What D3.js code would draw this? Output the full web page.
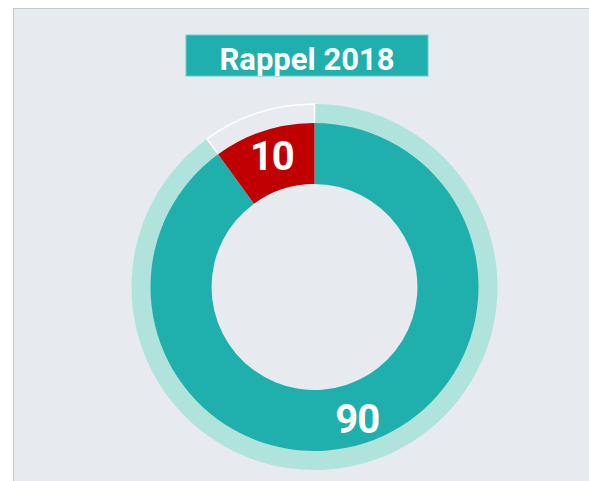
<!DOCTYPE html>
<html>
<head>
<meta charset="utf-8">
<script src="https://cdn.jsdelivr.net/npm/d3@7"></script>
<style>
  html, body { margin: 0; padding: 0; background: #ffffff; }
  svg { display: block; }
</style>
</head>
<body>
<div id="chart"></div>
<script>
const title = "Rappel 2018";
const categories = ["Oui", "Non"];
const values = [90, 10];
const colors = ["#1fb0ae", "#c00000"];
const ringColors = ["#b0e3dc", "#e7eaef"];

const width = 589, height = 481;
const cx = 314.5, cy = 287;

const svg = d3.select("#chart").append("svg")
    .attr("width", width)
    .attr("height", height);

// panneau de fond
svg.append("rect")
    .attr("x", 13.5).attr("y", 8.5)
    .attr("width", width).attr("height", height)
    .attr("fill", "#e7eaef")
    .attr("stroke", "#c6c8cb")
    .attr("stroke-width", 1);

// titre
svg.append("rect")
    .attr("x", 186).attr("y", 35)
    .attr("width", 242).attr("height", 41)
    .attr("fill", "#1fb0ae")
    .attr("stroke", "#6fcac6")
    .attr("stroke-width", 1);
svg.append("text")
    .attr("x", 307).attr("y", 70)
    .attr("text-anchor", "middle")
    .attr("fill", "#ffffff")
    .style("font-family", "Roboto, sans-serif")
    .style("font-weight", 700)
    .style("font-size", "31px")
    .text(title);

const data = categories.map((c, i) => ({cat: c, value: values[i], i: i}));
const pie = d3.pie().sort(null).value(d => d.value);
const arcs = pie(data);

const g = svg.append("g").attr("transform", `translate(${cx},${cy})`);

// anneau exterieur
const outerArc = d3.arc().innerRadius(103).outerRadius(183);
g.selectAll("path.ring").data(arcs).enter().append("path")
    .attr("class", "ring")
    .attr("d", outerArc)
    .attr("fill", d => ringColors[d.data.i])
    .attr("stroke", d => d.data.i === 1 ? "#ffffff" : "none")
    .attr("stroke-width", 1.5);

// donut
const arc = d3.arc().innerRadius(103).outerRadius(164);
const labelArc = d3.arc().innerRadius(118).outerRadius(158);
g.selectAll("path.slice").data(arcs).enter().append("path")
    .attr("class", "slice")
    .attr("d", arc)
    .attr("fill", d => colors[d.data.i]);

g.selectAll("text.lbl").data(arcs).enter().append("text")
    .attr("class", "lbl")
    .attr("transform", d => {
        const [x, y] = labelArc.centroid(d);
        return `translate(${x},${y})`;
    })
    .attr("text-anchor", "middle")
    .attr("dy", "0.36em")
    .attr("fill", "#ffffff")
    .style("font-family", "Roboto, sans-serif")
    .style("font-weight", 700)
    .style("font-size", "40px")
    .style("letter-spacing", "-1px")
    .text(d => d.data.value);
</script>
</body>
</html>
